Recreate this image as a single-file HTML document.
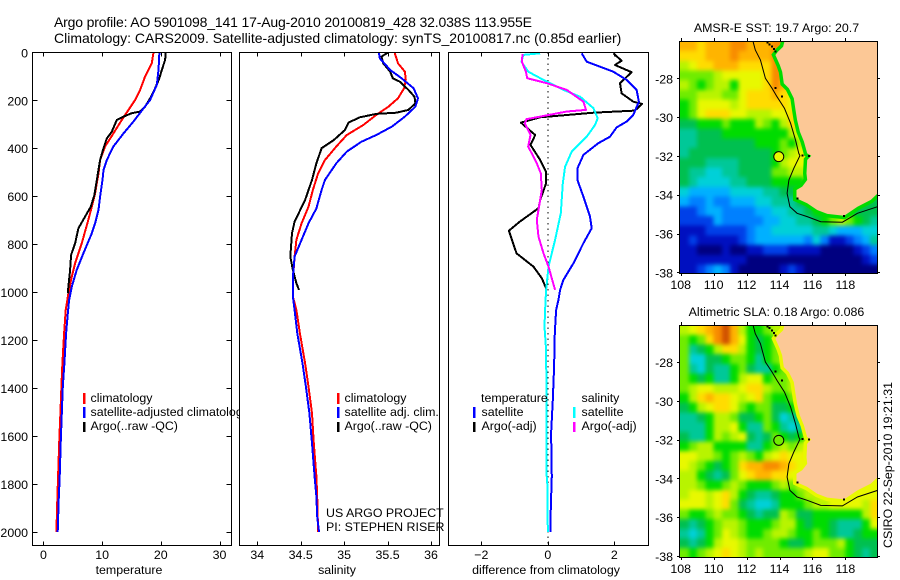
<!DOCTYPE html>
<html lang="en">
<head>
<meta charset="utf-8">
<title>Argo profile chart</title>
<style>
html,body{margin:0;padding:0;background:#fff;}
svg{display:block;}
text{font-family:"Liberation Sans",sans-serif;font-size:12.4px;fill:#000;}
</style>
</head>
<body>
<svg id="chart" xmlns="http://www.w3.org/2000/svg" width="900" height="580" viewBox="0 0 900 580">
<defs>
<clipPath id="clip-temp"><rect x="32" y="52" width="207" height="494"/></clipPath>
<clipPath id="clip-sal"><rect x="239" y="52" width="210" height="494"/></clipPath>
<clipPath id="clip-diff"><rect x="448" y="52" width="201" height="494"/></clipPath>
<clipPath id="clip-map-sst"><rect x="680" y="41" width="197" height="232"/></clipPath>
<clipPath id="clip-map-sla"><rect x="680" y="325" width="197" height="232"/></clipPath>
<filter id="map-smooth" filterUnits="userSpaceOnUse" x="640" y="0" width="260" height="580" color-interpolation-filters="sRGB"><feGaussianBlur stdDeviation="2.2"/></filter>
</defs>
<text x="54" y="27" textLength="478" lengthAdjust="spacing" style="font-size:14px">Argo profile: AO 5901098_141 17-Aug-2010 20100819_428 32.038S 113.955E</text>
<text x="54" y="43" style="font-size:14px">Climatology: CARS2009. Satellite-adjusted climatology: synTS_20100817.nc (0.85d earlier)</text>
<g id="plots"></g>
<g>
<rect x="83" y="393" width="2.5" height="11" fill="#f00"/>
<rect x="83" y="407" width="2.5" height="11" fill="#00f"/>
<rect x="83" y="422" width="2.5" height="10" fill="#000"/>
<text x="90.5" y="402">climatology</text>
<g clip-path="url(#clip-temp)"><text x="90.5" y="416">satellite-adjusted climatology</text></g>
<text x="90.5" y="430">Argo(..raw -QC)</text>
</g>
<g>
<rect x="337" y="393" width="2.5" height="11" fill="#f00"/>
<rect x="337" y="407" width="2.5" height="11" fill="#00f"/>
<rect x="337" y="422" width="2.5" height="10" fill="#000"/>
<text x="344.5" y="402">climatology</text>
<text x="344.5" y="416">satellite adj. clim.</text>
<text x="344.5" y="430">Argo(..raw -QC)</text>
<text x="326" y="517">US ARGO PROJECT</text>
<text x="326" y="531">PI: STEPHEN RISER</text>
</g>
<g>
<text x="481" y="402">temperature</text>
<rect x="473" y="407" width="2.5" height="11" fill="#00f"/>
<rect x="473" y="422" width="2.5" height="10" fill="#000"/>
<text x="481.5" y="416">satellite</text>
<text x="481.5" y="430">Argo(-adj)</text>
<text x="581.5" y="402">salinity</text>
<rect x="573" y="407" width="2.5" height="11" fill="#0ff"/>
<rect x="573" y="422" width="2.5" height="10" fill="#f0f"/>
<text x="581.5" y="416">satellite</text>
<text x="581.5" y="430">Argo(-adj)</text>
</g>
<text x="129" y="574" text-anchor="middle">temperature</text>
<text x="337" y="574" text-anchor="middle">salinity</text>
<text x="546" y="574" text-anchor="middle">difference from climatology</text>
<text x="776.5" y="32" text-anchor="middle">AMSR-E SST: 19.7 Argo: 20.7</text>
<text x="776.5" y="316" text-anchor="middle">Altimetric SLA: 0.18 Argo: 0.086</text>
<text transform="translate(892 465) rotate(-90)" text-anchor="middle">CSIRO 22-Sep-2010 19:21:31</text>
</svg>
<script>
// ---- profile data (depth in dbar, values in data units) ----
const tempTicks = [0, 10, 20, 30];
const salTicks = [34, 34.5, 35, 35.5, 36];
const salTickLabels = ['34', '34.5', '35', '35.5', '36'];
const diffTicks = [-2, 0, 2];
const depthTicks = [0, 200, 400, 600, 800, 1000, 1200, 1400, 1600, 1800, 2000];

const tempClimDepth = [0,46,101,157,199,240,282,338,393,449,505,588,644,713,797,880,935,1005,1075,1172,1297,1394,1505,1603,1728,1853,2000];
const tempClimValue = [18.75,18.47,17.33,16.48,15.63,14.49,13.35,11.93,10.51,9.66,9.38,8.81,8.24,7.5,6.53,5.4,4.83,4.26,3.8,3.52,3.24,3.07,2.9,2.73,2.56,2.39,2.22];
const tempSatDepth = [0,74,136,199,234,289,338,393,449,491,532,602,657,713,755,838,908,977,1033,1089,1172,1297,1394,1505,1631,1769,1867,2000];
const tempSatValue = [19.77,19.6,19.32,18.18,17.05,15.34,13.64,11.93,10.8,10.23,10.06,9.66,9.38,8.81,8.24,6.82,5.68,4.83,4.38,4.15,3.86,3.58,3.3,3.13,2.95,2.78,2.61,2.44];
const tempArgoDepth = [0,32,74,108,150,192,227,247,254,268,282,331,359,400,449,518,595,644,685,734,797,845,908,977,1005];
const tempArgoValue = [20.85,20.74,20.17,19.77,19.03,18.18,17.33,16.48,15.06,13.64,12.5,11.65,10.8,10.23,9.66,9.2,8.69,8.07,7.1,5.97,5.4,4.72,4.55,4.26,4.15];

const salClimDepth = [0,46,81,115,150,192,227,261,303,345,393,449,505,574,644,713,782,852,949,1019,1075,1172,1297,1394,1505,1631,1769,1853,2000];
const salClimValue = [35.58,35.62,35.70,35.71,35.69,35.62,35.51,35.37,35.22,35.03,34.91,34.78,34.70,34.64,34.59,34.51,34.45,34.43,34.41,34.41,34.45,34.49,34.55,34.59,34.63,34.65,34.68,34.69,34.70];
const salSatDepth = [0,25,74,108,150,192,227,268,310,345,373,414,463,532,574,651,713,782,852,935,1019,1075,1172,1297,1394,1505,1631,1769,1853,1936,2000];
const salSatValue = [35.40,35.41,35.53,35.66,35.80,35.85,35.82,35.70,35.55,35.37,35.20,35.03,34.91,34.78,34.74,34.68,34.59,34.51,34.43,34.41,34.41,34.43,34.46,34.52,34.56,34.60,34.63,34.66,34.68,34.69,34.71];
const salArgoDepth = [0,18,46,81,108,122,157,185,213,240,252,257,271,293,324,366,400,463,532,616,706,755,852,908,963,991];
const salArgoValue = [35.51,35.43,35.45,35.53,35.56,35.64,35.74,35.81,35.82,35.74,35.60,35.37,35.18,35.05,35.01,34.88,34.74,34.68,34.63,34.55,34.43,34.40,34.38,34.41,34.45,34.48];

const diffTempSatDepth = [4,39,60,81,115,157,206,261,289,313,352,379,428,484,532,602,685,734,796,880,949,991,1033,1075,1172,1311,1450,1589,1769,1895,2000];
const diffTempSatValue = [1.02,1.17,1.57,1.97,2.37,2.67,2.74,2.57,2.37,2.07,1.87,1.52,1.07,0.89,0.89,1.07,1.27,1.32,1.07,0.77,0.47,0.37,0.32,0.25,0.21,0.19,0.15,0.10,0.12,0.09,0.08];
const diffTempArgoDepth = [4,35,53,83,129,171,206,215,243,252,271,293,345,386,449,498,546,616,650,706,744,838,894,942,984];
const diffTempArgoValue = [1.97,2.22,2.02,2.52,2.17,2.22,2.57,2.84,2.62,1.37,-0.23,-0.81,-0.38,-0.52,-0.23,-0.05,-0.05,-0.23,-0.28,-0.84,-1.17,-0.94,-0.43,-0.18,-0.05];
const diffSalSatDepth = [4,11,39,81,115,157,185,233,275,303,352,414,477,546,671,782,894,991,1075,1144,1241,1450,1755,1811,2000];
const diffSalSatValue = [-0.23,-0.74,-0.79,-0.59,-0.13,0.47,0.97,1.37,1.50,1.42,1.17,0.72,0.52,0.45,0.39,0.22,0.02,-0.05,-0.08,-0.10,-0.05,-0.04,-0.04,-0.01,0];
const diffSalArgoDepth = [7,39,81,108,129,157,206,240,247,268,279,296,345,393,463,505,574,657,699,769,838,894,991];
const diffSalArgoValue = [-0.76,-0.78,-0.66,-0.62,-0.03,0.57,1.07,1.15,0.57,-0.23,-0.64,-0.69,-0.52,-0.59,-0.33,-0.21,-0.18,-0.28,-0.33,-0.28,-0.13,0.02,0.22];

// ---- map data: colour level per 0.5 degree cell, north to south, west to east ----
const lonTicks = [108, 110, 112, 114, 116, 118];
const latTicks = [28, 30, 32, 34, 36, 38];
const argoLon = 113.955;
const argoLat = 32.038;
const sstArgoLevel = 11;
const slaArgoLevel = 9;

const sstLevels = [
[13,13,12,13,13,13,14,14,13,13,13,14,14,8,8],
[12,12,12,13,13,13,14,13,13,13,13,14,14,8,8],
[10,11,12,12,13,13,13,12,12,12,12,14,14,11,8],
[9,9,9,9,10,11,11,11,11,11,12,14,14,11,8],
[10,9,8,9,10,10,8,11,11,11,12,14,13,11,8],
[9,9,10,10,10,9,9,11,12,12,12,13,12,11,8],
[8,9,11,11,11,11,10,11,12,12,12,12,12,11,8],
[8,9,11,12,12,12,11,11,10,10,10,11,11,12,12,8],
[7,7,8,8,8,9,8,8,8,10,9,8,10,12,12,11,8],
[6,6,7,7,7,8,8,8,8,8,8,8,8,10,11,12,11,8],
[6,6,7,7,7,7,7,7,7,8,8,8,9,8,10,11,12,11,8],
[6,7,7,7,7,7,7,7,7,7,7,8,9,10,11,12,12,8,8],
[7,7,7,6,6,6,6,7,7,7,7,8,10,11,11,11,11,11,9,8],
[7,6,6,5,5,6,6,7,7,7,7,9,9,10,10,10,10,10,8,6],
[7,6,5,5,5,5,6,6,7,7,7,8,8,8,8,9,9,9,9,5,5,5,5,5],
[5,4,4,4,4,4,5,5,5,5,6,6,7,7,7,7,8,8,9,9,8,7,7,7],
[4,3,3,4,3,3,4,4,4,5,5,6,6,6,7,7,8,9,10,9,8,7,7,7],
[2,2,3,4,4,3,3,3,3,4,4,5,5,6,6,7,8,8,9,9,8,7,7,7],
[2,2,2,2,4,3,3,3,3,3,4,4,5,5,6,6,7,8,9,10,9,8,7,6],
[1,1,1,2,2,2,2,2,3,4,4,5,5,5,5,5,6,6,5,4,4,4,5,5],
[1,2,1,1,1,1,1,2,3,4,4,4,4,4,4,3,5,3,1,1,2,3,4,6],
[1,1,0,0,0,1,0,0,1,1,2,2,2,1,1,1,1,0,0,0,0,1,2,3],
[1,1,1,1,1,1,1,1,0,0,0,0,0,0,0,0,0,0,0,0,0,0,1,2],
[1,1,2,3,4,3,1,0,0,0,0,0,1,2,1,0,0,0,0,0,0,0,0,0]
];

const slaLevels = [
[10,11,12,13,14,15,13,10,8,8,9,10,10,10,10],
[9,8,9,12,14,15,13,11,8,7,8,9,10,10,10],
[9,6,7,8,10,12,12,10,8,7,8,9,10,10,10],
[9,5,5,7,7,8,9,9,8,6,8,9,10,10,10],
[9,6,5,7,6,6,8,9,7,6,6,8,9,10,10],
[9,8,7,8,6,6,8,10,11,11,8,9,9,10,11],
[9,10,11,11,10,10,10,11,12,12,10,9,9,10,11],
[8,10,12,13,12,12,11,10,11,12,9,8,8,9,11,11],
[7,8,10,11,12,12,11,9,8,9,9,7,7,8,10,11,11],
[6,6,7,8,10,10,9,7,7,8,9,7,5,6,7,10,11,11],
[6,6,6,8,10,10,11,8,6,6,9,8,6,5,6,9,11,11],
[7,6,6,8,10,9,10,11,7,6,7,9,8,7,8,10,11,11,10],
[8,9,10,10,8,8,8,8,6,6,8,9,10,9,10,11,12,11,10,9],
[11,11,10,10,9,8,9,10,9,8,10,11,12,11,11,12,12,10,10,10],
[11,10,9,8,7,8,9,12,13,13,14,14,13,12,11,11,10,10,10,11,11,11,11,11],
[10,10,8,7,6,7,9,11,12,13,13,12,12,11,11,10,10,11,11,11,11,11,11,11],
[10,10,9,8,8,9,10,9,8,8,8,9,10,9,10,10,11,11,11,11,11,11,11,11],
[10,11,11,10,11,12,10,8,7,6,6,7,8,8,9,10,10,11,11,11,11,11,11,11],
[11,11,11,10,11,12,9,7,6,5,5,6,8,8,8,9,10,10,11,11,11,11,10,12],
[9,8,8,9,10,9,9,8,7,6,7,7,10,9,7,7,8,8,8,8,8,8,10,12],
[7,6,7,8,9,10,10,9,8,8,8,9,10,10,8,7,8,8,7,6,6,6,8,11],
[6,5,6,8,9,11,10,9,8,8,9,10,10,9,8,8,9,8,7,6,6,7,8,8],
[7,6,7,8,10,11,11,10,9,9,9,9,8,7,7,8,9,9,9,10,8,7,7,7],
[9,8,9,10,11,12,11,10,9,10,9,9,9,9,9,10,11,11,9,9,8,7,6,7]
];

const coastLon = [114.30,114.22,113.90,113.75,114.02,114.16,114.26,114.57,114.87,114.97,115.07,115.24,115.48,115.68,115.93,115.68,115.64,115.68,115.38,115.03,115.03,115.68,116.29,116.90,117.92,118.73,119.54,120.00];
const coastLat = [26.09,26.37,26.63,26.80,27.31,27.66,28.26,28.52,29.03,29.63,30.15,30.75,31.26,31.87,31.99,32.21,32.90,33.24,33.58,33.76,34.19,34.44,34.79,34.99,35.08,34.62,34.27,33.90];
const isobathLon = [112.39,112.53,112.84,113.14,113.55,113.85,114.30,114.67,114.97,115.17,115.24,114.87,114.57,114.46,114.63,115.07,115.68,116.50,117.82,118.73,119.95];
const isobathLat = [26.09,26.54,27.05,28.00,28.52,28.95,29.55,30.32,31.18,31.87,31.99,32.64,33.24,33.93,34.62,34.96,35.13,35.39,35.42,34.96,34.62];
const islandLon = [113.75,113.28,113.40,113.55,113.65,113.75,114.15,115.40,115.80,115.10,117.90];
const islandLat = [28.50,26.16,26.25,26.37,26.50,26.63,28.95,31.98,32.00,34.20,35.10];

// ---- scales ----
const SVGNS = 'http://www.w3.org/2000/svg';
const root = document.getElementById('plots');
const yDepth = d => 52.3 + d * 0.2398;
const xTemp = v => 43.4 + v * 5.87;
const xSal = v => 257.3 + (v - 34) * 86.85;
const xDiff = v => 547.8 + v * 33.25;
const levelColors = ['#000080','#0010c0','#0040e8','#0080ff','#00b0ff','#00d0d8','#00c898','#00c050','#00dc00','#70ec00','#b8f400','#e8f800','#ffdc00','#ffb400','#f88c00','#d05000'];

function mk(tag, attrs, parent) {
  const el = document.createElementNS(SVGNS, tag);
  for (const k in attrs) el.setAttribute(k, attrs[k]);
  parent.appendChild(el);
  return el;
}

function frame(x0, y0, x1, y1, parent) {
  const el = mk('rect', {x: x0, y: y0, width: x1 - x0, height: y1 - y0, fill: 'none', stroke: '#000', 'stroke-width': 1, 'shape-rendering': 'crispEdges'}, parent);
  
  
}

function tick(x1, y1, x2, y2, parent) {
  const el = mk('line', {x1: x1, y1: y1, x2: x2, y2: y2, stroke: '#000', 'stroke-width': 1, 'shape-rendering': 'crispEdges'}, parent);
  
  
}

function label(x, y, str, anchor, parent) {
  const el = mk('text', {x: x, y: y, 'text-anchor': anchor}, parent);
  el.textContent = str;
  
  
}

function series(depths, values, xs, color, width, clip, parent, name) {
  const pts = depths.map((d, i) => xs(values[i]).toFixed(1) + ',' + yDepth(d).toFixed(1)).join(' ');
  const el = mk('polyline', {points: pts, fill: 'none', stroke: color, 'stroke-width': width, 'stroke-linejoin': 'round', 'shape-rendering': 'crispEdges', 'clip-path': 'url(#' + clip + ')'}, parent);
  
  
}

function xAxis(ticks, labels, xs, top, bottom, parent) {
  ticks.forEach((t, i) => {
    const x = Math.round(xs(t)) + 0.5;
    tick(x, top, x, top + 4, parent);
    tick(x, bottom - 4, x, bottom, parent);
    label(xs(t), 559, labels[i], 'middle', parent);
  });
}

// ---- profile panels ----
const tempPanel = mk('g', {}, root);


series(tempClimDepth, tempClimValue, xTemp, '#f00', 2, 'clip-temp', tempPanel, 'temperature-climatology-line');
series(tempArgoDepth, tempArgoValue, xTemp, '#000', 2, 'clip-temp', tempPanel, 'temperature-argo-line');
series(tempSatDepth, tempSatValue, xTemp, '#00f', 2, 'clip-temp', tempPanel, 'temperature-satellite-line');
frame(32.5, 52.5, 231.5, 545.5, tempPanel);
xAxis(tempTicks, tempTicks.map(String), xTemp, 52.5, 545.5, tempPanel);
depthTicks.forEach(d => {
  const y = Math.round(yDepth(d)) + 0.5;
  tick(32.5, y, 37.5, y, tempPanel);
  tick(226.5, y, 231.5, y, tempPanel);
  label(28, yDepth(d) + 5, String(d), 'end', tempPanel);
});

const salPanel = mk('g', {}, root);


series(salClimDepth, salClimValue, xSal, '#f00', 2, 'clip-sal', salPanel, 'salinity-climatology-line');
series(salArgoDepth, salArgoValue, xSal, '#000', 2, 'clip-sal', salPanel, 'salinity-argo-line');
series(salSatDepth, salSatValue, xSal, '#00f', 2, 'clip-sal', salPanel, 'salinity-satellite-line');
frame(239.5, 52.5, 439.5, 545.5, salPanel);
xAxis(salTicks, salTickLabels, xSal, 52.5, 545.5, salPanel);

const diffPanel = mk('g', {}, root);


const zeroLine = mk('line', {x1: xDiff(0), y1: yDepth(0), x2: xDiff(0), y2: 545, stroke: '#000', 'stroke-width': 1, 'stroke-dasharray': '1.5 4', 'shape-rendering': 'crispEdges'}, diffPanel);


series(diffTempArgoDepth, diffTempArgoValue, xDiff, '#000', 2, 'clip-diff', diffPanel, 'difference-temp-argo-line');
series(diffTempSatDepth, diffTempSatValue, xDiff, '#00f', 2, 'clip-diff', diffPanel, 'difference-temp-satellite-line');
series(diffSalSatDepth, diffSalSatValue, xDiff, '#0ff', 2, 'clip-diff', diffPanel, 'difference-sal-satellite-line');
series(diffSalArgoDepth, diffSalArgoValue, xDiff, '#f0f', 2, 'clip-diff', diffPanel, 'difference-sal-argo-line');
frame(448.5, 52.5, 648.5, 545.5, diffPanel);
xAxis(diffTicks, ['\u22122', '0', '2'], xDiff, 52.5, 545.5, diffPanel);

// ---- maps ----
function drawMap(levels, argoLevel, bandLevel, lat28y, name, clip, labelY) {
  const xLon = lon => 680.7 + (lon - 108) * 16.47;
  const yLat = lat => lat28y + (lat - 28) * 19.4;
  const g = mk('g', {}, root);
  
  
  const clipped = mk('g', {'clip-path': 'url(#' + clip + ')'}, g);
  const cells = mk('g', {filter: 'url(#map-smooth)'}, clipped);
  // cells extend past the frame (repeating the edge value) so smoothing does not fade at the edges
  for (let r = -2; r < levels.length + 2; r++) {
    const row = levels[Math.min(levels.length - 1, Math.max(0, r))];
    for (let c = -2; c < 26; c++) {
      const level = row[Math.min(row.length - 1, Math.max(0, c))];
      const x = xLon(108 + c * 0.5);
      const y = yLat(26.1 + r * 0.5);
      const cell = mk('rect', {x: x.toFixed(1), y: y.toFixed(1), width: 8.8, height: 10.3, fill: levelColors[level], 'shape-rendering': 'crispEdges'}, cells);
      
      
    }
  }
  const coastPts = coastLon.map((lon, i) => xLon(lon).toFixed(1) + ',' + yLat(coastLat[i]).toFixed(1));
  const band = mk('polyline', {points: coastPts.join(' '), fill: 'none', stroke: levelColors[bandLevel], 'stroke-width': 7, 'clip-path': 'url(#' + clip + ')'}, g);
  
  
  const landPts = coastPts.concat([xLon(120.2).toFixed(1) + ',' + yLat(33.9).toFixed(1), xLon(120.2).toFixed(1) + ',' + yLat(26).toFixed(1), xLon(114.3).toFixed(1) + ',' + yLat(26).toFixed(1)]);
  const land = mk('polygon', {points: landPts.join(' '), fill: '#fcc896', 'clip-path': 'url(#' + clip + ')'}, g);
  
  
  const isoPts = isobathLon.map((lon, i) => xLon(lon).toFixed(1) + ',' + yLat(isobathLat[i]).toFixed(1)).join(' ');
  const iso = mk('polyline', {points: isoPts, fill: 'none', stroke: '#000', 'stroke-width': 1, 'clip-path': 'url(#' + clip + ')'}, g);
  
  
  islandLon.forEach((lon, i) => {
    const dot = mk('rect', {x: xLon(lon) - 1, y: yLat(islandLat[i]) - 1, width: 2, height: 2, fill: '#000', 'shape-rendering': 'crispEdges'}, g);
    
    
  });
  const marker = mk('circle', {cx: xLon(argoLon), cy: yLat(argoLat), r: 5, fill: levelColors[argoLevel], stroke: '#000', 'stroke-width': 1}, g);
  
  
  const top = yLat(26.1), bottom = yLat(38) + 1;
  frame(679.5, Math.round(top) + 0.5, 877.5, Math.round(bottom) + 0.5, g);
  lonTicks.forEach(lon => {
    const x = Math.round(xLon(lon)) + 0.5;
    tick(x, Math.round(top) - 3, x, Math.round(top), g);
    tick(x, Math.round(bottom), x, Math.round(bottom) + 3, g);
    label(xLon(lon), labelY, String(lon), 'middle', g);
  });
  latTicks.forEach(lat => {
    const y = Math.round(yLat(lat)) + 0.5;
    tick(677, y, 680, y, g);
    tick(877, y, 880, y, g);
    label(673, yLat(lat) + 5, '-' + lat, 'end', g);
  });
}
drawMap(sstLevels, sstArgoLevel, 8, 78.3, 'sst-map', 'clip-map-sst', 289);
drawMap(slaLevels, slaArgoLevel, 11, 362, 'sla-map', 'clip-map-sla', 573);
</script>
</body>
</html>
